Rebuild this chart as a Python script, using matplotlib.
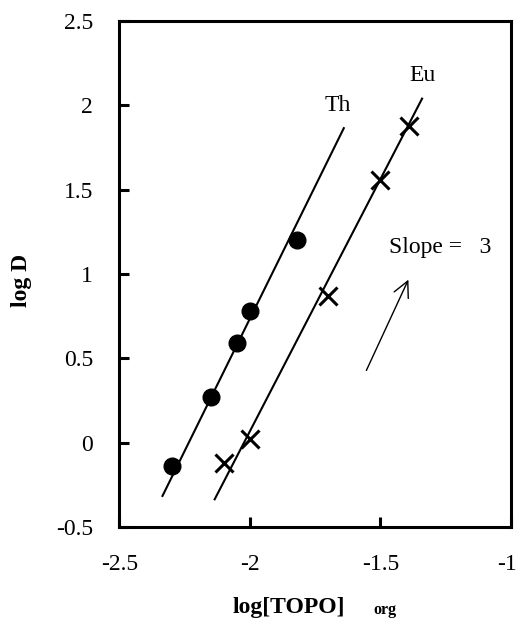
import matplotlib.pyplot as plt
import matplotlib.transforms as mtransforms

plt.rcParams['font.family'] = ['Liberation Serif', 'DejaVu Serif']

# log[TOPO]org vs log D for Th and Eu
th_x = [-2.30, -2.15, -2.05, -2.00, -1.82]
th_y = [-0.14, 0.27, 0.59, 0.78, 1.20]
eu_x = [-2.10, -2.00, -1.70, -1.50, -1.39]
eu_y = [-0.12, 0.02, 0.87, 1.56, 1.88]

# straight fit lines (end points)
th_fit_x = [-2.335, -1.64]
th_fit_y = [-0.315, 1.865]
eu_fit_x = [-2.135, -1.34]
eu_fit_y = [-0.335, 2.04]

x_ticks = [-2.5, -2, -1.5, -1]
y_ticks = [-0.5, 0, 0.5, 1, 1.5, 2, 2.5]

fig = plt.figure(figsize=(5.17, 6.18), dpi=100)
ax = fig.add_axes([0.231, 0.147, 0.757, 0.819])

ax.plot(th_fit_x, th_fit_y, color='black', lw=1.5)
ax.plot(eu_fit_x, eu_fit_y, color='black', lw=1.5)
ax.plot(th_x, th_y, 'o', color='black', ms=12, ls='none')
ax.plot(eu_x, eu_y, 'x', color='black', ms=12.5, mew=2.2, ls='none')

ax.text(-1.663, 2.0, 'Th', fontsize=17, ha='center', va='center')
ax.text(-1.337, 2.18, 'Eu', fontsize=17, ha='center', va='center')
ax.text(-1.465, 1.155, 'Slope =   3', fontsize=17, ha='left', va='center')
ax.annotate('', xy=(-1.388, 0.982), xytext=(-1.558, 0.414),
            arrowprops=dict(arrowstyle='->', color='black', lw=1.0,
                            mutation_scale=28))

ax.set_xlim(-2.5, -1)
ax.set_ylim(-0.5, 2.5)
ax.set_xticks(x_ticks)
ax.set_xticklabels(['-2.5', '-2', '-1.5', '-1'])
ax.set_yticks(y_ticks)
ax.set_yticklabels(['-0.5', '0', '0.5', '1', '1.5', '2', '2.5'])
ax.tick_params(direction='in', length=7.5, width=2.2, labelsize=17,
               top=False, right=False)
ax.tick_params(axis='y', pad=19)
ax.tick_params(axis='x', pad=19)
for s in ax.spines.values():
    s.set_linewidth(2.2)

# keep the last x label inside the figure
last = ax.get_xticklabels()[-1]
last.set_transform(last.get_transform() +
                   mtransforms.ScaledTranslation(-4 / 100, 0, fig.dpi_scale_trans))

fig.text(0.559, 0.008, 'log[TOPO]', fontsize=17, fontweight='bold',
         ha='center', va='baseline')
fig.text(0.745, 0.006, 'org', fontsize=11.5, fontweight='bold',
         ha='center', va='baseline')
fig.text(0.042, 0.547, 'log D', fontsize=17, fontweight='bold',
         rotation=90, ha='center', va='center')

fig.savefig('out.png', dpi=100)
